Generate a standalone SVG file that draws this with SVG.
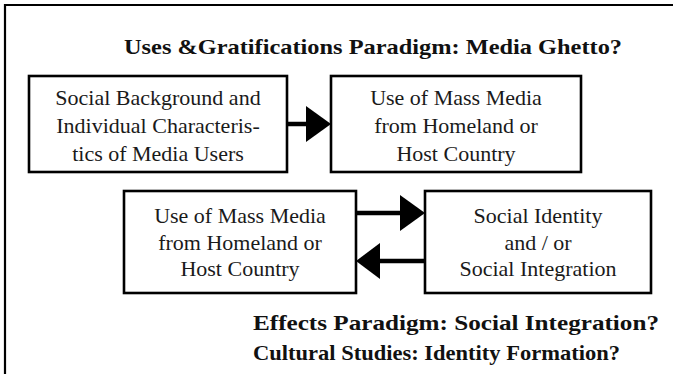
<svg xmlns="http://www.w3.org/2000/svg" width="673" height="374" viewBox="0 0 673 374">
<style>
.box{fill:#fff;stroke:#000;stroke-width:2.6}
.t{font-family:"Liberation Serif","Times New Roman",serif;font-size:22px;fill:#1a1a1a;text-anchor:middle}
.h{font-family:"Liberation Serif","Times New Roman",serif;font-size:22px;font-weight:bold;fill:#111}
.shaft{stroke:#000;stroke-width:4.5;fill:none}
.head{fill:#000}
</style>
<rect width="673" height="374" fill="#fff"/>
<path d="M5,374 V5 H673" fill="none" stroke="#000" stroke-width="2.2"/>
<text class="h" x="373" y="54" text-anchor="middle" textLength="498" lengthAdjust="spacingAndGlyphs">Uses &amp;Gratifications Paradigm: Media Ghetto?</text>
<g id="n1">
<rect class="box" x="29" y="76" width="258" height="96"/>
<text class="t" x="158" y="105">Social Background and</text>
<text class="t" x="158" y="133">Individual Characteris-</text>
<text class="t" x="158" y="161">tics of Media Users</text>
</g>
<g id="n2">
<rect class="box" x="331" y="76" width="250" height="96"/>
<text class="t" x="456" y="105">Use of Mass Media</text>
<text class="t" x="456" y="133">from Homeland or</text>
<text class="t" x="456" y="161">Host Country</text>
</g>
<g id="n3">
<rect class="box" x="124" y="191" width="232" height="102"/>
<text class="t" x="240" y="223">Use of Mass Media</text>
<text class="t" x="240" y="250">from Homeland or</text>
<text class="t" x="240" y="276">Host Country</text>
</g>
<g id="n4">
<rect class="box" x="425" y="191" width="226" height="102"/>
<text class="t" x="538" y="223">Social Identity</text>
<text class="t" x="538" y="250">and / or</text>
<text class="t" x="538" y="276">Social Integration</text>
</g>
<g id="connectors">
<line class="shaft" x1="288" y1="124" x2="308" y2="124"/>
<polygon class="head" points="306,106 331,124 306,142"/>
<line class="shaft" x1="357" y1="213" x2="402" y2="213"/>
<polygon class="head" points="400,195 425,213 400,231"/>
<line class="shaft" x1="424" y1="261" x2="378" y2="261"/>
<polygon class="head" points="380,243 356,261 380,279"/>
</g>
<text class="h" x="253" y="330" textLength="406" lengthAdjust="spacingAndGlyphs">Effects Paradigm: Social Integration?</text>
<text class="h" x="253" y="360" textLength="367" lengthAdjust="spacingAndGlyphs">Cultural Studies: Identity Formation?</text>
</svg>
